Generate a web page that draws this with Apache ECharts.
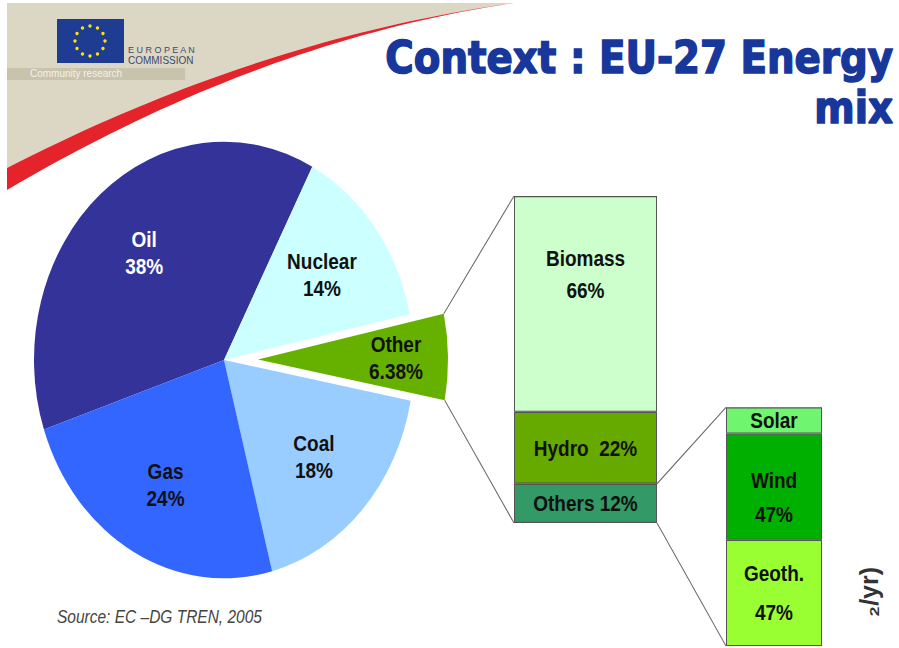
<!DOCTYPE html>
<html>
<head>
<meta charset="utf-8">
<script src="https://cdn.jsdelivr.net/npm/echarts@6/dist/echarts.min.js"></script>
<style>
  html, body { margin: 0; padding: 0; background: #fff; overflow: hidden; }
  #wrap { width: 899px; height: 648px; overflow: hidden; position: relative; }
  /* the slide is stretched vertically, so draw at 564px and stretch to 648 */
  #main { width: 899px; height: 564px; transform: scaleY(1.148936); transform-origin: 0 0; }
</style>
</head>
<body>
<div id="wrap"><div id="main"></div></div>
<script>
  const K = 648 / 564

  // pie: EU-27 energy mix (%)
  const pieNames = ['Oil', 'Nuclear', 'Other', 'Coal', 'Gas']
  const pieValues = [38, 14, 6.38, 18, 24]

  // split of "Other", bottom to top
  const otherNames = ['Others', 'Hydro', 'Biomass']
  const otherValues = [12, 22, 66]
  const otherLabels = ['Others 12%', 'Hydro  22%', 'Biomass\n66%']

  // split of "Others", bottom to top (heights as drawn)
  const renewNames = ['Geoth.', 'Wind', 'Solar']
  const renewValues = [44.5, 44.5, 11]
  const renewLabels = ['Geoth.\n\n47%', 'Wind\n47%', 'Solar']

  const pieColors = ['#333399', '#ccffff', '#66b000', '#99ccff', '#3366ff']
  const otherColors = ['#339966', '#66aa00', '#ccffcc']
  const renewColors = ['#99ff33', '#00b000', '#70f570']

  const FONT = 'Liberation Sans, Arial, sans-serif'
  const pieCenter = [224, 313.3]
  const pieRadius = 190
  const pieStart = 198.6
  const otherOffset = 34
  const gridA = { left: 514, top: 170.6, width: 143, height: 284.6 }
  const gridB = { left: 726, top: 354.5, width: 96, height: 207.8 }

  const labelTweaks = {
    Biomass: { position: 'insideTop', distance: 40, lineHeight: 28 },
    Wind: { lineHeight: 29, offset: [0, 9] },
    'Geoth.': { lineHeight: 17 }
  }

  function barSeries(names, values, labels, colors, idx) {
    return names.map((n, i) => ({
      name: n,
      type: 'bar',
      stack: 's' + idx,
      xAxisIndex: idx,
      yAxisIndex: idx,
      barWidth: '100%',
      silent: true,
      data: [values[i]],
      itemStyle: { color: colors[i], borderColor: '#555', borderWidth: 1 },
      label: Object.assign({
        show: true, position: 'inside', formatter: labels[i], color: '#111',
        fontFamily: FONT, fontWeight: 'bold', fontSize: 19, lineHeight: 23
      }, labelTweaks[n] || {})
    }))
  }

  const chart = echarts.init(document.getElementById('main'), null, { renderer: 'svg' })

  const option = {
    animation: false,
    title: {
      text: 'Context : EU-27 Energy\nmix',
      left: 'right',
      top: 28,
      padding: [0, 6, 0, 0],
      textStyle: {
        fontFamily: 'DejaVu Sans', fontWeight: 'bold', fontSize: 38.8,
        lineHeight: 43.5, color: '#18379c',
        textBorderColor: '#18379c', textBorderWidth: 1.4
      }
    },
    grid: [
      Object.assign({}, gridA),
      Object.assign({}, gridB)
    ],
    xAxis: [
      { type: 'category', gridIndex: 0, data: ['Other'], show: false },
      { type: 'category', gridIndex: 1, data: ['Others'], show: false }
    ],
    yAxis: [
      { type: 'value', gridIndex: 0, min: 0, max: 100, show: false },
      { type: 'value', gridIndex: 1, min: 0, max: 100, show: false }
    ],
    series: [
      {
        type: 'pie',
        center: pieCenter,
        radius: pieRadius,
        startAngle: pieStart,
        clockwise: true,
        selectedMode: 'single',
        selectedOffset: otherOffset,
        silent: true,
        emphasis: { disabled: true },
        label: { show: false },
        labelLine: { show: false },
        data: pieNames.map((n, i) => ({
          name: n, value: pieValues[i], selected: n === 'Other',
          itemStyle: { color: pieColors[i] }
        }))
      },
      {
        // transparent copy that only carries the labels further out
        type: 'pie',
        center: pieCenter,
        radius: [0, 240],
        startAngle: pieStart,
        clockwise: true,
        selectedMode: 'single',
        selectedOffset: 49,
        silent: true,
        emphasis: { disabled: true },
        itemStyle: { color: 'rgba(0,0,0,0)' },
        label: {
          show: true, position: 'inside', formatter: '{b}\n{c}%', color: '#111',
          fontFamily: FONT, fontWeight: 'bold', fontSize: 19, lineHeight: 23
        },
        labelLine: { show: false },
        data: pieNames.map((n, i) => ({
          name: n, value: pieValues[i], selected: n === 'Other',
          label: n === 'Oil' ? { color: '#fff' } : {}
        }))
      }
    ].concat(
      barSeries(otherNames, otherValues, otherLabels, otherColors, 0),
      barSeries(renewNames, renewValues, renewLabels, renewColors, 1)
    )
  }
  chart.setOption(option)

  // connector lines from the "Other" slice to the bars
  const total = pieValues.reduce((a, b) => a + b, 0)
  const iOther = pieNames.indexOf('Other')
  const before = pieValues.slice(0, iOther).reduce((a, b) => a + b, 0)
  const a0 = (pieStart - before / total * 360) * Math.PI / 180
  const a1 = (pieStart - (before + pieValues[iOther]) / total * 360) * Math.PI / 180
  const am = (a0 + a1) / 2
  function piePt(a) {
    return [
      pieCenter[0] + otherOffset * Math.cos(am) + pieRadius * Math.cos(a),
      pieCenter[1] - otherOffset * Math.sin(am) - pieRadius * Math.sin(a)
    ]
  }
  const yA100 = chart.convertToPixel({ yAxisIndex: 0 }, 100)
  const yA0 = chart.convertToPixel({ yAxisIndex: 0 }, 0)
  const yA12 = chart.convertToPixel({ yAxisIndex: 0 }, otherValues[0])
  const yB100 = chart.convertToPixel({ yAxisIndex: 1 }, 100)
  const yB0 = chart.convertToPixel({ yAxisIndex: 1 }, 0)
  const aRight = gridA.left + gridA.width
  const links = [
    [piePt(a0), [gridA.left, yA100]],
    [piePt(a1), [gridA.left, yA0]],
    [[aRight, yA12], [gridB.left, yB100]],
    [[aRight, yA0], [gridB.left, yB0]]
  ]

  // EU header, drawn in picture pixels (the group undoes the stretch)
  function quad(p0, c, p2) {
    const pts = []
    for (let i = 0; i <= 40; i++) {
      const t = i / 40, u = 1 - t
      pts.push([u * u * p0[0] + 2 * u * t * c[0] + t * t * p2[0],
                u * u * p0[1] + 2 * u * t * c[1] + t * t * p2[1]])
    }
    return pts
  }
  const upperEdge = quad([7, 168], [260, 38], [514, 3])
  const lowerEdge = quad([514, 3], [262, 40], [7, 190])
  const beige = [[7, 3], [514, 3]].concat(upperEdge.slice().reverse())
  const swoosh = upperEdge.concat(lowerEdge)

  const stars = []
  for (let i = 0; i < 12; i++) {
    const t = i / 12 * Math.PI * 2
    stars.push({
      type: 'circle',
      shape: { cx: 90 + 15 * Math.cos(t), cy: 41 + 15 * Math.sin(t), r: 1.7 },
      style: { fill: '#ffe100' }
    })
  }
  const header = {
    type: 'group',
    scaleY: 1 / K,
    z: -1,
    children: [
      { type: 'polygon', shape: { points: beige }, style: { fill: '#dcd7c5' } },
      { type: 'rect', shape: { x: 7, y: 68, width: 178, height: 12 }, style: { fill: '#c9c3ae' } },
      { type: 'text', x: 30, y: 74, style: { text: 'Community research', font: '10px ' + FONT, fill: '#f4f1e8', verticalAlign: 'middle' } },
      { type: 'polygon', shape: { points: swoosh }, style: { fill: '#e4232b' } },
      { type: 'rect', shape: { x: 57, y: 19, width: 67, height: 44 }, style: { fill: '#1f3c93' } },
      { type: 'text', x: 128, y: 50, style: { text: 'E U R O P E A N', font: '9px ' + FONT, fill: '#3d4a6a', verticalAlign: 'middle' } },
      { type: 'text', x: 128, y: 61, style: { text: 'COMMISSION', font: '10px ' + FONT, fill: '#3d4a6a', verticalAlign: 'middle' } },
      { type: 'text', x: 869, y: 567, rotation: Math.PI / 2, style: { text: '₂/yr)', font: 'bold 25px ' + FONT, fill: '#333', align: 'right', verticalAlign: 'middle' } }
    ].concat(stars)
  }

  chart.setOption({
    graphic: [header].concat(links.map(l => ({
      type: 'line',
      z: 10,
      shape: { x1: l[0][0], y1: l[0][1], x2: l[1][0], y2: l[1][1] },
      style: { stroke: '#666', lineWidth: 1 }
    })), [{
      type: 'text',
      x: 57,
      y: 616.7 / K,
      style: { text: 'Source: EC –DG TREN, 2005', font: 'italic 15.5px ' + FONT, fill: '#444', verticalAlign: 'middle' }
    }])
  })
</script>
</body>
</html>
